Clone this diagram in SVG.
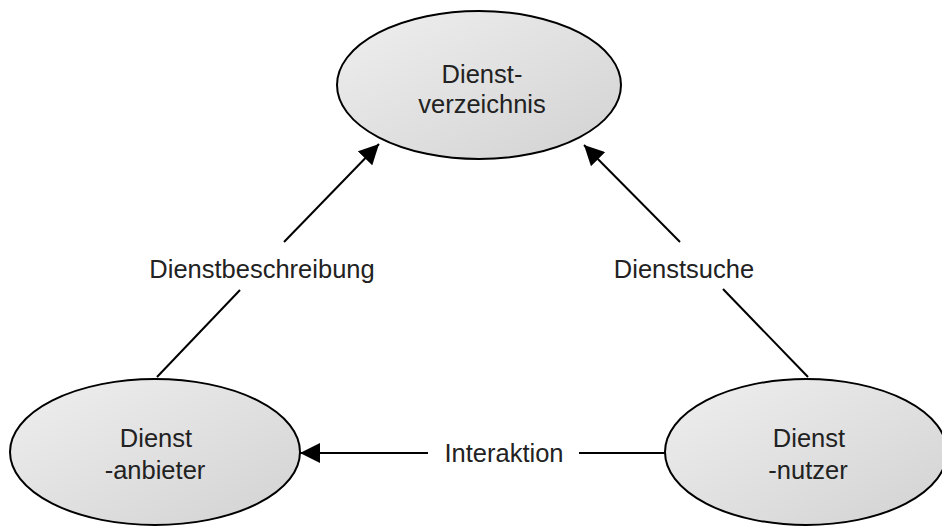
<svg xmlns="http://www.w3.org/2000/svg" width="942" height="526" viewBox="0 0 942 526">
  <defs>
    <linearGradient id="nodeFill" x1="0" y1="0" x2="1" y2="1">
      <stop offset="0" stop-color="#efefef"/>
      <stop offset="1" stop-color="#d2d2d2"/>
    </linearGradient>
    <marker id="arrow" viewBox="0 0 20 20" refX="20" refY="10" markerWidth="20" markerHeight="20" markerUnits="userSpaceOnUse" orient="auto">
      <path d="M0,0 L20,10 L0,20 z" fill="#000"/>
    </marker>
  </defs>
  <style>
    .node ellipse { fill: url(#nodeFill); stroke: #000; stroke-width: 2; }
    .node text, .label { font-family: "Liberation Sans", Arial, sans-serif; font-size: 25.5px; fill: #222; text-anchor: middle; }
    .edge { stroke: #000; stroke-width: 2; fill: none; }
  </style>

  <rect width="942" height="526" fill="#fff"/>

  <g id="connectors">
    <!-- Dienstbeschreibung: provider -> directory -->
    <line class="edge" x1="157" y1="377" x2="240" y2="290"/>
    <line class="edge" x1="284" y1="242" x2="379" y2="144" marker-end="url(#arrow)"/>
    <text class="label" x="262" y="278">Dienstbeschreibung</text>
    <!-- Dienstsuche: consumer -> directory -->
    <line class="edge" x1="808" y1="377" x2="723" y2="289"/>
    <line class="edge" x1="680" y1="242" x2="584" y2="145" marker-end="url(#arrow)"/>
    <text class="label" x="684" y="278">Dienstsuche</text>
    <!-- Interaktion: consumer -> provider -->
    <line class="edge" x1="665" y1="453" x2="579" y2="453"/>
    <line class="edge" x1="428" y1="453" x2="300" y2="453" marker-end="url(#arrow)"/>
    <text class="label" x="504" y="462">Interaktion</text>
  </g>

  <g id="dienstverzeichnis" class="node">
    <ellipse cx="479" cy="85" rx="142" ry="74"/>
    <text x="482" y="83">Dienst-</text>
    <text x="482" y="113">verzeichnis</text>
  </g>

  <g id="dienstanbieter" class="node">
    <ellipse cx="155" cy="452" rx="145" ry="73"/>
    <text x="156" y="447">Dienst</text>
    <text x="155" y="479">-anbieter</text>
  </g>

  <g id="dienstnutzer" class="node">
    <ellipse cx="806" cy="452" rx="141" ry="73"/>
    <text x="809" y="447">Dienst</text>
    <text x="808" y="479">-nutzer</text>
  </g>
</svg>
